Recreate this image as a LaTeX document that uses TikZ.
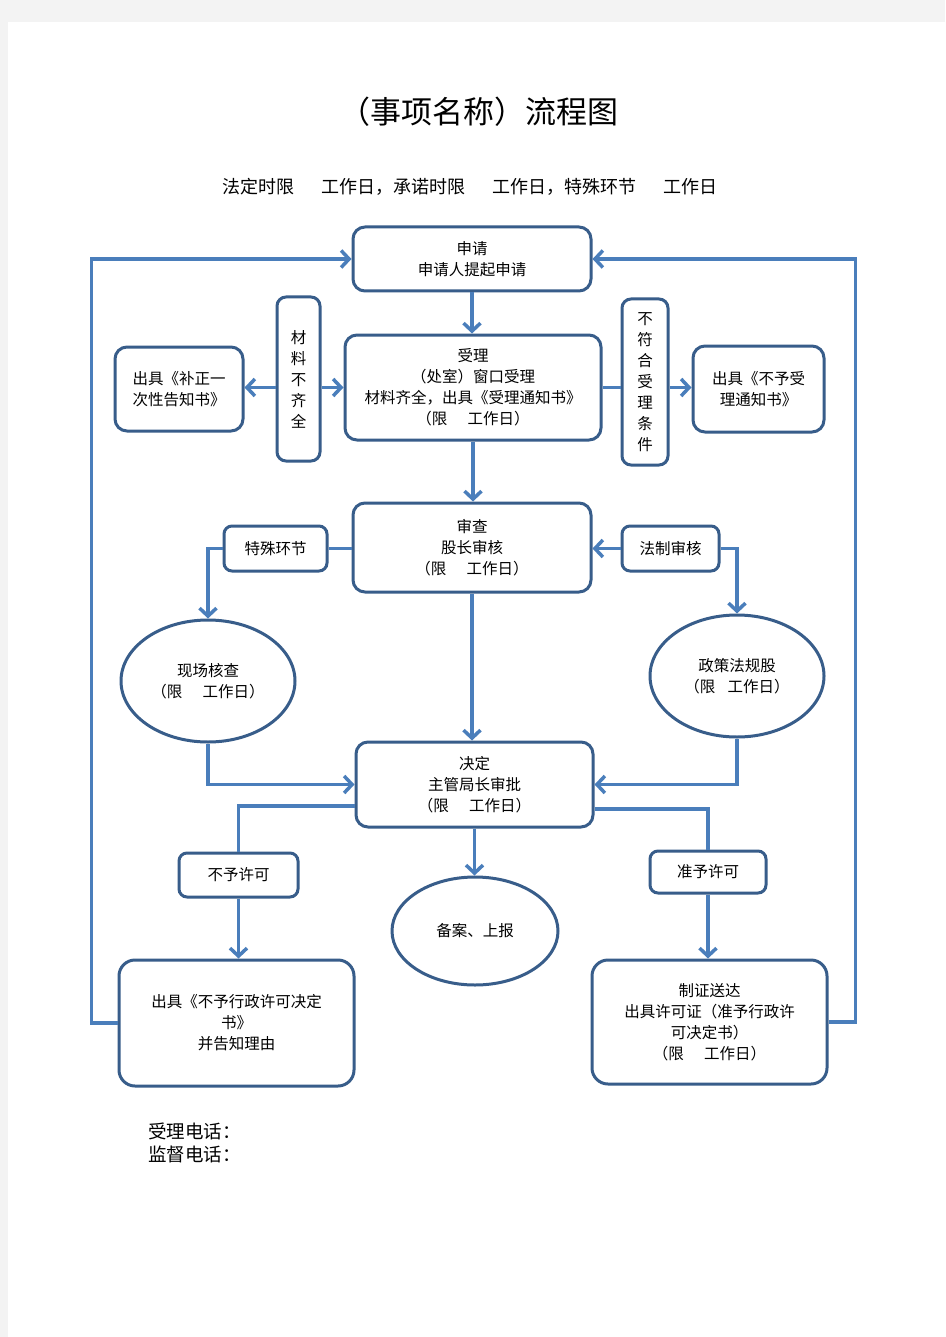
\documentclass[tikz,border=0pt]{standalone}
\usepackage{fontspec}
\setmainfont{Noto Sans CJK SC}
\usetikzlibrary{arrows.meta,shapes.geometric,calc}
\definecolor{linecol}{RGB}{74,126,187}
\definecolor{bordcol}{RGB}{56,93,138}
\definecolor{pagebg}{RGB}{243,243,243}
\begin{document}
\begin{tikzpicture}[x=1pt,y=-1pt,
  boxtxt/.style={align=center,inner sep=0pt,font=\fontsize{15.5}{21}\selectfont},
  box/.style={boxtxt,draw=bordcol,line width=3pt,rounded corners=12pt,fill=white},
  ell/.style={boxtxt,draw=bordcol,line width=3pt,ellipse,fill=white},
  conn/.style={draw=linecol,line width=3.5pt},
  arr/.style={conn,-{Straight Barb[length=8pt,width=17pt]}}]
\useasboundingbox (0,0) rectangle (945,1337);
\fill[pagebg] (0,0) rectangle (945,1337);
\fill[white] (8,22) rectangle (945,1337);

% titles
\node[inner sep=0pt,font=\fontsize{31}{36}\selectfont] (title) at (478.5,112) {（事项名称）流程图};
\node[anchor=west,inner sep=0pt,font=\fontsize{18}{20}\selectfont] (sub) at (222,187)
  {法定时限\hspace{1.5em}工作日，承诺时限\hspace{1.5em}工作日，特殊环节\hspace{1.5em}工作日};

% nodes
\node[box,minimum width=238pt,minimum height=64pt] (sq) at (472,259) {申请\\申请人提起申请};
\node[box,minimum width=256pt,minimum height=105pt] (sl) at (473,387.5) {受理\\（处室）窗口受理\\材料齐全，出具《受理通知书》\\（限\hspace{1.3em}工作日）};
\node[box,rounded corners=9pt,minimum width=43pt,minimum height=164pt] (cl) at (298.5,379) {材\\料\\不\\齐\\全};
\node[box,minimum width=128pt,minimum height=84pt] (bz) at (179,389) {出具《补正一\\次性告知书》};
\node[box,rounded corners=9pt,minimum width=46pt,minimum height=166pt] (bf) at (645,382) {不\\符\\合\\受\\理\\条\\件};
\node[box,minimum width=131pt,minimum height=86pt] (bsl) at (758.5,389) {出具《不予受\\理通知书》};
\node[box,minimum width=238pt,minimum height=89pt] (sc) at (472,547.5) {审查\\股长审核\\（限\hspace{1.3em}工作日）};
\node[box,rounded corners=8pt,minimum width=103pt,minimum height=45pt] (ts) at (275.5,548.5) {特殊环节};
\node[box,rounded corners=8pt,minimum width=97pt,minimum height=45pt] (fz) at (670.5,548.5) {法制审核};
\node[ell,minimum width=174pt,minimum height=122pt] (xc) at (208,681) {现场核查\\（限\hspace{1.3em}工作日）};
\node[ell,minimum width=174pt,minimum height=122pt] (zc) at (737,676) {政策法规股\\（限\hspace{0.8em}工作日）};
\node[box,minimum width=237pt,minimum height=85pt] (jd) at (474.5,784.5) {决定\\主管局长审批\\（限\hspace{1.3em}工作日）};
\node[box,rounded corners=8pt,minimum width=119pt,minimum height=44pt] (by) at (238.5,875) {不予许可};
\node[box,rounded corners=8pt,minimum width=116pt,minimum height=42pt] (zy) at (708,872) {准予许可};
\node[ell,minimum width=166pt,minimum height=108pt] (ba) at (475,931) {备案、上报};
\node[box,rounded corners=16pt,minimum width=235pt,minimum height=126pt] (bx) at (236.5,1023) {出具《不予行政许可决定\\书》\\并告知理由};
\node[box,rounded corners=16pt,minimum width=235pt,minimum height=124pt] (zz) at (709.5,1022) {制证送达\\出具许可证（准予行政许\\可决定书）\\（限\hspace{1.3em}工作日）};

% footer
\node[anchor=west,inner sep=0pt,font=\fontsize{18.5}{20}\selectfont] (tel1) at (148,1131) {受理电话：};
\node[anchor=west,inner sep=0pt,font=\fontsize{18.5}{20}\selectfont] (tel2) at (148,1154) {监督电话：};

% connectors
\draw[arr] (sq.south) -- (sq.south |- sl.north);
\draw[arr] (cl.west |- sl.center) -- (bz.east |- sl.center);
\draw[arr] (cl.east |- sl.center) -- (sl.west);
\draw[conn] (sl.east) -- (bf.west |- sl.east);
\draw[arr] (bf.east |- sl.east) -- (bsl.west |- sl.east);
\draw[arr] (sl.south) -- (sl.south |- sc.north);
\draw[conn] (sc.west |- ts.east) -- (ts.east);
\draw[arr] (ts.west) -| (xc.north);
\draw[arr] (fz.east) -| (zc.north);
\draw[arr] (fz.west) -- (sc.east |- fz.west);
\draw[arr] (sc.south) -- (sc.south |- jd.north);
\draw[arr] (xc.south) |- (jd.west);
\draw[arr] (zc.south) |- (jd.east);
\draw[arr] (jd.south) -- (jd.south |- ba.north);
\draw[conn] ($(jd.west)+(0,21.5)$) -| (by.north);
\draw[arr] (by.south) -- (by.south |- bx.north);
\draw[conn] ($(jd.east)+(0,24.5)$) -| (zy.north);
\draw[arr] (zy.south) -- (zy.south |- zz.north);
\draw[arr] (bx.west) -- ++(-26,0) |- (sq.west);
\draw[arr] (zz.east) -- ++(27,0) |- (sq.east);
\end{tikzpicture}
\end{document}
